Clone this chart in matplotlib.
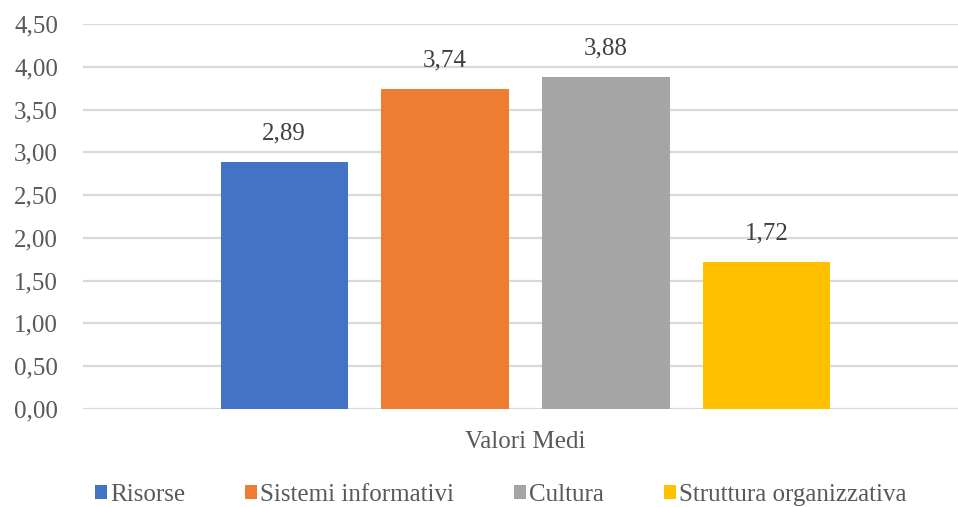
import matplotlib
matplotlib.use("Agg")
import matplotlib.pyplot as plt
from matplotlib.patches import Patch
import numpy as np

categories = ["Risorse", "Sistemi informativi", "Cultura", "Struttura organizzativa"]
values = [2.89, 3.74, 3.88, 1.72]
colors = ["#4472C4", "#ED7D31", "#A5A5A5", "#FFC000"]
group_label = "Valori Medi"
yticks = [0.0, 0.5, 1.0, 1.5, 2.0, 2.5, 3.0, 3.5, 4.0, 4.5]

plt.rcParams["font.family"] = ["Liberation Serif", "DejaVu Serif"]
text_color = "#595959"
fs = 18

fig = plt.figure(figsize=(9.58, 5.07), dpi=100)
ax = fig.add_axes([83 / 958, 1 - 409 / 507, 885 / 958, 385 / 507])

x = np.arange(len(values))
bars = ax.bar(x, values, width=0.79, color=colors, zorder=3)

for xi, v in zip(x, values):
    ax.text(xi, v + 0.2, f"{v:.2f}".replace(".", ","), ha="center", va="bottom",
            fontsize=fs, color="#404040")

ax.set_ylim(0, 4.5)
ax.set_xlim(-1.25, 4.25)
ax.set_yticks(yticks)
ax.set_yticklabels([f"{t:.2f}".replace(".", ",") for t in yticks],
                   fontsize=fs, color=text_color)
ax.set_xticks([1.5])
ax.set_xticklabels([group_label], fontsize=fs, color=text_color)
ax.tick_params(axis="both", length=0)
ax.tick_params(axis="y", pad=18)
ax.tick_params(axis="x", pad=16)
ax.grid(axis="y", color="#D9D9D9", linewidth=1.6, zorder=0)
for s in ax.spines.values():
    s.set_visible(False)

handles = [Patch(facecolor=c, label=l) for c, l in zip(colors, categories)]
fig.legend(handles=handles, loc="center", bbox_to_anchor=(501 / 958, 1 - 495 / 507),
           ncol=4, frameon=False, fontsize=fs, handlelength=0.45, handleheight=0.45,
           handletextpad=0.15, columnspacing=2.4, labelcolor=text_color)

fig.savefig("out.png", dpi=100)
